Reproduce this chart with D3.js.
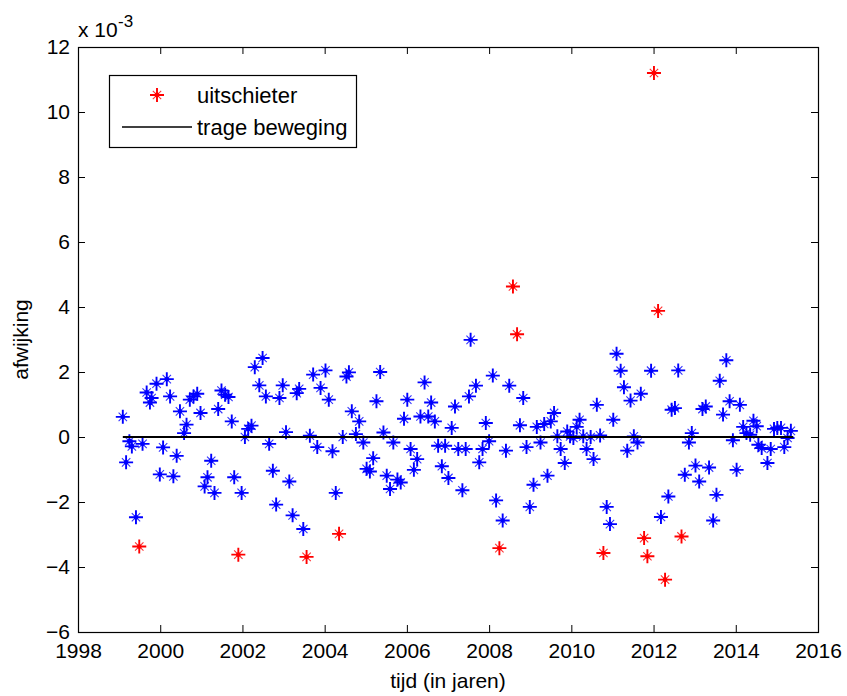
<!DOCTYPE html>
<html>
<head>
<meta charset="utf-8">
<script src="https://cdn.jsdelivr.net/npm/d3@7"></script>
<style>
  body { margin: 0; background: #fff; }
  text { font-family: "Liberation Sans", Arial, sans-serif; fill: #000; }
</style>
</head>
<body>
<div id="chart"></div>
<script>
// blue points: tijd (jaren) and afwijking (x 10^-3)
var normalX = [
  1999.09, 1999.17, 1999.25, 1999.31, 1999.41, 1999.57, 1999.67, 1999.75, 1999.79, 1999.91,
  1999.99, 2000.07, 2000.16, 2000.24, 2000.32, 2000.40, 2000.48, 2000.58, 2000.64, 2000.72,
  2000.81, 2000.90, 2000.98, 2001.08, 2001.15, 2001.24, 2001.32, 2001.41, 2001.49, 2001.58,
  2001.66, 2001.74, 2001.80, 2001.98, 2002.06, 2002.14, 2002.22, 2002.30, 2002.41, 2002.49,
  2002.57, 2002.65, 2002.74, 2002.82, 2002.90, 2002.98, 2003.06, 2003.14, 2003.22, 2003.32,
  2003.38, 2003.48, 2003.64, 2003.72, 2003.82, 2003.90, 2004.02, 2004.10, 2004.19, 2004.27,
  2004.44, 2004.53, 2004.59, 2004.66, 2004.76, 2004.84, 2004.94, 2005.02, 2005.10, 2005.18,
  2005.26, 2005.35, 2005.43, 2005.51, 2005.59, 2005.67, 2005.77, 2005.85, 2005.93, 2006.01,
  2006.09, 2006.17, 2006.25, 2006.33, 2006.43, 2006.52, 2006.59, 2006.68, 2006.76, 2006.85,
  2006.93, 2007.01, 2007.09, 2007.17, 2007.25, 2007.35, 2007.43, 2007.51, 2007.55, 2007.68,
  2007.76, 2007.84, 2007.92, 2008.00, 2008.09, 2008.17, 2008.33, 2008.41, 2008.49, 2008.75,
  2008.83, 2008.91, 2008.99, 2009.08, 2009.16, 2009.25, 2009.34, 2009.42, 2009.50, 2009.58,
  2009.66, 2009.74, 2009.84, 2009.90, 2009.97, 2010.05, 2010.13, 2010.20, 2010.29, 2010.37,
  2010.47, 2010.54, 2010.62, 2010.70, 2010.86, 2010.94, 2011.02, 2011.10, 2011.20, 2011.28,
  2011.36, 2011.44, 2011.52, 2011.61, 2011.69, 2011.94, 2012.18, 2012.36, 2012.44, 2012.52,
  2012.60, 2012.76, 2012.86, 2012.93, 2013.02, 2013.11, 2013.19, 2013.27, 2013.35, 2013.45,
  2013.53, 2013.61, 2013.69, 2013.77, 2013.85, 2013.93, 2014.02, 2014.10, 2014.18, 2014.26,
  2014.35, 2014.43, 2014.51, 2014.55, 2014.63, 2014.77, 2014.85, 2014.93, 2015.01, 2015.10,
  2015.18, 2015.26, 2015.34
];
var normalY = [
  0.62, -0.78, -0.13, -0.29, -2.47, -0.21, 1.37, 1.06, 1.20, 1.64,
  -1.15, -0.32, 1.78, 1.25, -1.21, -0.58, 0.79, 0.12, 0.38, 1.15,
  1.25, 1.33, 0.74, -1.52, -1.24, -0.73, -1.72, 0.86, 1.43, 1.30,
  1.23, 0.48, -1.24, -1.72, 0.00, 0.25, 0.35, 2.15, 1.59, 2.43,
  1.25, -0.21, -1.04, -2.08, 1.20, 1.59, 0.15, -1.37, -2.41, 1.35,
  1.48, -2.83, 0.04, 1.92, -0.31, 1.51, 2.05, 1.15, -0.44, -1.72,
  0.00, 1.86, 1.99, 0.79, 0.09, 0.48, -0.17, -0.98, -1.06, -0.65,
  1.10, 2.00, 0.14, -1.19, -1.60, -0.17, -1.31, -1.40, 0.56, 1.15,
  -0.37, -1.01, -0.68, 0.63, 1.68, 0.63, 1.06, 0.48, -0.27, -0.90,
  -0.27, -1.26, 0.28, 0.94, -0.37, -1.64, -0.37, 1.25, 2.99, 1.58,
  -0.78, -0.37, 0.43, -0.13, 1.89, -1.95, -2.57, -0.42, 1.58, 0.36,
  1.20, -0.31, -2.15, -1.47, 0.31, -0.17, 0.40, -1.19, 0.48, 0.74,
  0.02, -0.37, -0.80, 0.17, 0.02, -0.03, 0.31, 0.53, 0.02, -0.37,
  0.00, -0.68, 0.99, 0.05, -2.15, -2.68, 0.53, 2.56, 2.04, 1.53,
  -0.42, 1.12, 0.02, -0.17, 1.33, 2.04, -2.46, -1.83, 0.84, 0.89,
  2.05, -1.16, -0.17, 0.12, -0.88, -1.37, 0.86, 0.94, -0.94, -2.57,
  -1.78, 1.73, 0.69, 2.36, 1.10, -0.10, -1.01, 0.99, 0.31, 0.12,
  0.07, 0.50, 0.33, -0.24, -0.34, -0.80, -0.37, 0.25, 0.28, 0.28,
  -0.31, -0.03, 0.19
];
// red points: uitschieter
var outlierX = [1999.49, 2001.90, 2003.56, 2004.35, 2008.25, 2008.58, 2008.68, 2010.78,
                2011.77, 2011.85, 2012.01, 2012.11, 2012.28, 2012.68];
var outlierY = [-3.37, -3.62, -3.69, -2.98, -3.42, 4.63, 3.16, -3.57,
                -3.11, -3.67, 11.20, 3.88, -4.39, -3.06];
// trage beweging
var trendX = [1999.09, 2015.40];
var trendY = [0.0, 0.0];

var xTicks = [1998, 2000, 2002, 2004, 2006, 2008, 2010, 2012, 2014, 2016];
var yTicks = [-6, -4, -2, 0, 2, 4, 6, 8, 10, 12];
var legendLabels = ["uitschieter", "trage beweging"];

var W = 847, H = 696;
var margin = {top: 47, right: 29, bottom: 64, left: 78},
    width = W - margin.left - margin.right,
    height = H - margin.top - margin.bottom;

var x = d3.scaleLinear().domain([1998, 2016]).range([0, width]);
var y = d3.scaleLinear().domain([-6, 12]).range([height, 0]);

var svg = d3.select("#chart").append("svg")
    .attr("width", W)
    .attr("height", H);

var g = svg.append("g")
    .attr("transform", "translate(" + margin.left + "," + margin.top + ")");

// axes, ticks pointing inward like matlab
function styleAxis(sel) {
    sel.select(".domain").remove();
    sel.selectAll("line").attr("stroke", "#000");
    sel.selectAll("text").style("font-size", "21px").attr("fill", "#000");
}
g.append("g").attr("transform", "translate(0," + height + ")")
    .call(d3.axisBottom(x).tickValues(xTicks).tickSize(-7).tickPadding(11).tickFormat(d3.format("d")))
    .call(styleAxis);
g.append("g")
    .call(d3.axisTop(x).tickValues(xTicks).tickSize(-7).tickFormat(""))
    .call(styleAxis);
g.append("g")
    .call(d3.axisLeft(y).tickValues(yTicks).tickSize(-7).tickPadding(8).tickFormat(d3.format("d")))
    .call(styleAxis);
g.append("g").attr("transform", "translate(" + width + ",0)")
    .call(d3.axisRight(y).tickValues(yTicks).tickSize(-7).tickFormat(""))
    .call(styleAxis);

g.append("rect")
    .attr("x", 0.5).attr("y", 0.5)
    .attr("width", width).attr("height", height)
    .attr("fill", "none").attr("stroke", "#000").attr("stroke-width", 1.2);

// exponent label
svg.append("text")
    .attr("x", margin.left).attr("y", 37)
    .style("font-size", "21px")
    .text("x 10");
svg.append("text")
    .attr("x", 118).attr("y", 27)
    .style("font-size", "17px")
    .text("-3");

// axis titles
svg.append("text")
    .attr("x", margin.left + width / 2).attr("y", 688)
    .attr("text-anchor", "middle")
    .style("font-size", "21px")
    .text("tijd (in jaren)");
svg.append("text")
    .attr("transform", "translate(28," + (margin.top + y(3)) + ") rotate(-90)")
    .attr("text-anchor", "middle")
    .style("font-size", "21px")
    .text("afwijking");

// star marker
function star(sel, color) {
    sel.append("path")
        .attr("d", "M-7,0H7M0,-7V7")
        .attr("stroke", color).attr("stroke-width", 1.9);
    sel.append("path")
        .attr("d", "M-4.2,-4.2L4.2,4.2M-4.2,4.2L4.2,-4.2")
        .attr("stroke", color).attr("stroke-width", 1.1).attr("opacity", 0.8);
    sel.append("circle").attr("r", 2.4).attr("fill", color);
}

var trendLine = d3.line()
    .x(function(d) { return x(d[0]); })
    .y(function(d) { return y(d[1]); });

g.selectAll(".normal")
    .data(d3.zip(normalX, normalY))
  .enter().append("g")
    .attr("class", "normal")
    .attr("transform", function(d) { return "translate(" + x(d[0]) + "," + y(d[1]) + ")"; })
    .call(star, "#0000ff");

g.append("path")
    .datum(d3.zip(trendX, trendY))
    .attr("d", trendLine)
    .attr("fill", "none")
    .attr("stroke", "#000")
    .attr("stroke-width", 2);

g.selectAll(".outlier")
    .data(d3.zip(outlierX, outlierY))
  .enter().append("g")
    .attr("class", "outlier")
    .attr("transform", function(d) { return "translate(" + x(d[0]) + "," + y(d[1]) + ")"; })
    .call(star, "#ff0000");

// legend
var legend = svg.append("g").attr("transform", "translate(109,75)");
legend.append("rect")
    .attr("x", 0.5).attr("y", 0.5)
    .attr("width", 247).attr("height", 72)
    .attr("fill", "#fff").attr("stroke", "#000").attr("stroke-width", 1.2);
legend.append("g").attr("transform", "translate(48,20)").call(star, "#ff0000");
legend.append("line")
    .attr("x1", 13).attr("x2", 83).attr("y1", 52).attr("y2", 52)
    .attr("stroke", "#000").attr("stroke-width", 1.5);
legend.selectAll(".lbl")
    .data(legendLabels)
  .enter().append("text")
    .attr("class", "lbl")
    .attr("x", 88)
    .attr("y", function(d, i) { return 28 + i * 32; })
    .style("font-size", "22px")
    .text(function(d) { return d; });
</script>
</body>
</html>
